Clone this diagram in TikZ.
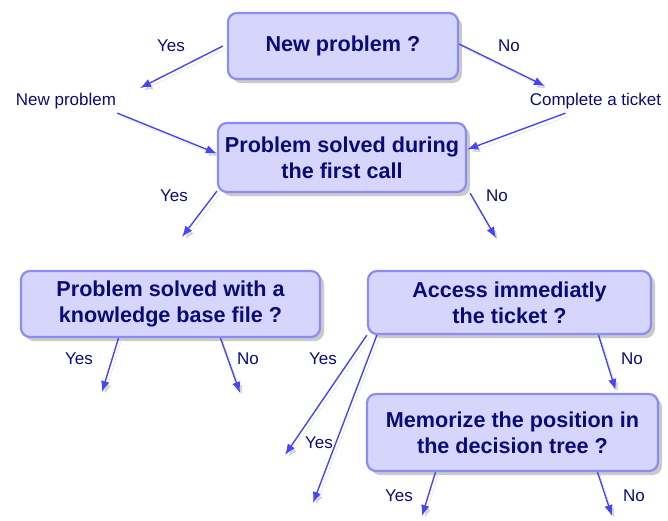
\documentclass[tikz,border=0pt]{standalone}
\usepackage{fontspec}
\setmainfont{Liberation Sans}
\usetikzlibrary{arrows.meta, positioning, shadows}
\definecolor{boxfill}{HTML}{D6D6FC}
\definecolor{boxline}{HTML}{8C8CF5}
\definecolor{linkblue}{HTML}{4646F5}
\definecolor{textnavy}{HTML}{0A0A78}

\begin{document}
\begin{tikzpicture}[
		% one unit is one pixel of the page, y grows downwards
		x=1pt, y=-1pt,
		% Node styles
		question/.style={
				rectangle, rounded corners=9pt, draw=boxline, line width=2.2pt,
				fill=boxfill, text=textnavy, align=center, inner sep=0pt,
				font=\fontsize{21.6}{26}\selectfont\bfseries,
				drop shadow={shadow xshift=4pt, shadow yshift=-4pt, opacity=0.35, fill=black!60},
			},
		answer/.style={
				text=textnavy, inner sep=1pt,
				font=\fontsize{17}{20}\selectfont,
			},
		% Edge/arrow style
		link/.style={
				draw=linkblue, line width=1.4pt, -{Latex[length=11pt, width=8.5pt]},
				preaction={draw=black!50, opacity=0.3,
						transform canvas={shift={(2.5pt,-3pt)}}},
			},
	]
	\useasboundingbox (0,0) rectangle (668,520);

	% --- Questions ---
	\node[question, minimum width=230pt, minimum height=66pt] (newprob) at (343,46) {New problem ?};
	\node[question, minimum width=248pt, minimum height=69pt] (firstcall) at (342,157.5) {Problem solved during\\the first call};
	\node[question, minimum width=299pt, minimum height=66pt] (kbfile) at (170.5,304) {Problem solved with a\\knowledge base file ?};
	\node[question, minimum width=283pt, minimum height=63pt] (access) at (509.5,302.5) {Access immediatly\\the ticket ?};
	\node[question, minimum width=291pt, minimum height=77pt] (memorize) at (512.5,432.5) {Memorize the position in\\the decision tree ?};

	% --- Steps between the first two questions ---
	\node[answer] (newstep) at (66,101) {New problem};
	\node[answer] (ticketstep) at (595.5,101) {Complete a ticket};

	% --- Yes / No labels ---
	\foreach \txt/\px/\py/\nm in {Yes/171/46/yesnew, No/509/46/nonew,
			Yes/174/196/yesfirst, No/497/196/nofirst,
			Yes/79/359/yeskb, No/248/359/nokb,
			Yes/323/359/yesaccA, Yes/319/443/yesaccB, No/632/359/noacc,
			Yes/399/496/yesmem, No/634/496/nomem} {
			\node[answer] (\nm) at (\px,\py) {\txt};
		}

	% --- Free ends of the arrows ---
	\coordinate (endnewyes) at (140,88);
	\coordinate (endnewno) at (545,86);
	\coordinate (endfirstyes) at (182,237);
	\coordinate (endfirstno) at (496,238);
	\coordinate (endkbyes) at (102,392);
	\coordinate (endkbno) at (240,393);
	\coordinate (endaccA) at (285,455);
	\coordinate (endaccB) at (313,503);
	\coordinate (endmemyes) at (422,516);
	\coordinate (endmemno) at (612,516);

	% --- Arrows ---
	\draw[link] ([xshift=-4pt]newprob.west) -- (endnewyes);
	\draw[link] ([yshift=2pt]newprob.east) -- (endnewno);
	\draw[link] ([yshift=-3pt]newstep.south east) -- ([yshift=4pt]firstcall.west);
	\draw[link] ([xshift=-30pt, yshift=-3pt]ticketstep.south) -- ([yshift=8pt]firstcall.east);
	\draw[link] ([yshift=2pt]firstcall.south west) -- (endfirstyes);
	\draw[link] ([xshift=3pt]firstcall.south east) -- (endfirstno);
	\draw[link] ([xshift=-52pt]kbfile.south) -- (endkbyes);
	\draw[link] ([xshift=50pt]kbfile.south) -- (endkbno);
	\draw[link] (access.south west) -- (endaccA);
	\draw[link] ([xshift=10pt]access.south west) -- (endaccB);
	\draw[link, shorten >=3pt] ([xshift=89pt]access.south) -- ([xshift=104pt]memorize.north);
	\draw[link] ([xshift=-77pt]memorize.south) -- (endmemyes);
	\draw[link] ([xshift=85pt]memorize.south) -- (endmemno);
\end{tikzpicture}
\end{document}
